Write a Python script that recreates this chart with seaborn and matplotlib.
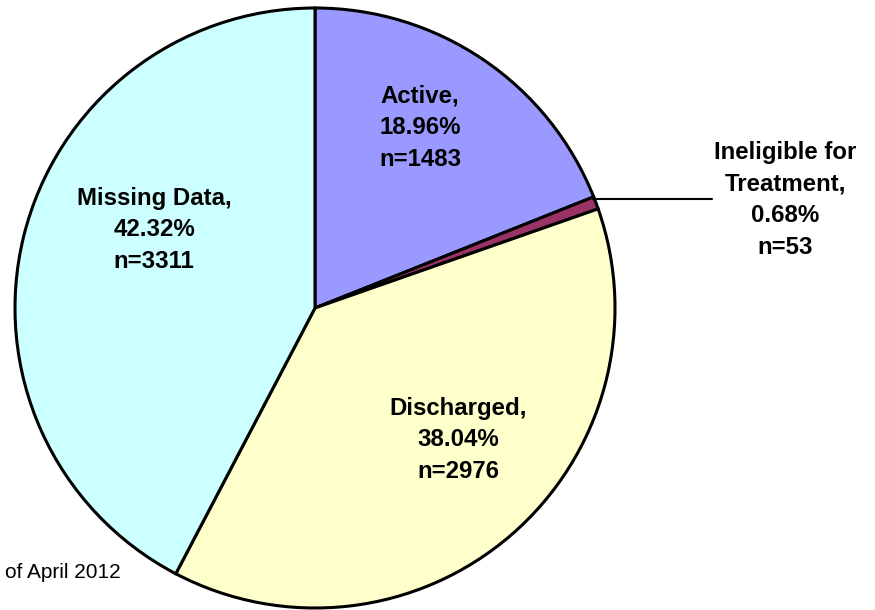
import matplotlib.pyplot as plt
import seaborn as sns

categories = ['Active', 'Ineligible for\nTreatment', 'Discharged', 'Missing Data']
percents = [18.96, 0.68, 38.04, 42.32]
counts = [1483, 53, 2976, 3311]
colors = ['#9999FF', '#993366', '#FFFFCC', '#CCFFFF']

sns.set_theme(style='white')
plt.rcParams['font.family'] = ['Liberation Sans', 'DejaVu Sans']

fig = plt.figure(figsize=(8.75, 6.1), dpi=100)
ax = fig.add_axes([0, 0, 1, 1])

# pie centred in pixel space (y up)
cx, cy, r = 315, 302, 300
ax.pie(percents, colors=colors, startangle=90, counterclock=False,
       center=(cx, cy), radius=r, frame=True,
       wedgeprops=dict(edgecolor='black', linewidth=2.2))
ax.set_xlim(0, 875)
ax.set_ylim(0, 610)
ax.set_aspect('equal')
ax.axis('off')

labels = [f'{c},\n{p:.2f}%\nn={n}' for c, p, n in zip(categories, percents, counts)]
# label spots (pixel coords, y down)
spots = [(420, 128), (785, 200), (458, 440), (154, 230)]
for lab, (x, y) in zip(labels, spots):
    ax.text(x, 610 - y, lab, ha='center', va='center', fontsize=17.3,
            fontweight='bold', linespacing=1.48, color='black')

# leader line for the small slice
ax.plot([593, 712], [610 - 199, 610 - 199], color='black', lw=1.5)

ax.text(5, 610 - 573, 'of April 2012', ha='left', va='center', fontsize=15, color='black')

fig.savefig('out.png', dpi=100)
